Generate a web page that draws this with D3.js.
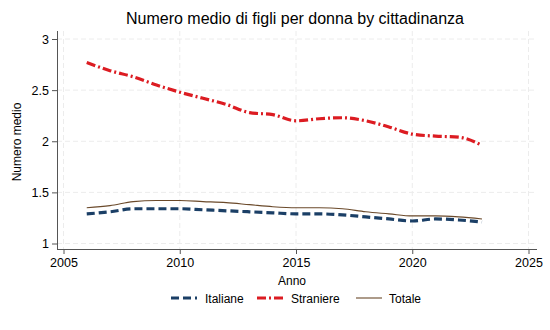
<!DOCTYPE html>
<html>
<head>
<meta charset="utf-8">
<script src="https://cdn.jsdelivr.net/npm/d3@7"></script>
<style>
  body { margin: 0; background: #fff; }
  svg { font-family: "Liberation Sans", Arial, sans-serif; }
</style>
</head>
<body>
<div id="chart"></div>
<script>
const anni = [2006, 2007, 2008, 2009, 2010, 2011, 2012, 2013, 2014, 2015, 2016, 2017, 2018, 2019, 2020, 2021, 2022, 2023]
const italiane = [1.29, 1.31, 1.34, 1.34, 1.34, 1.33, 1.32, 1.31, 1.30, 1.29, 1.29, 1.28, 1.26, 1.24, 1.22, 1.24, 1.23, 1.21]
const straniere = [2.77, 2.69, 2.63, 2.55, 2.48, 2.42, 2.36, 2.28, 2.26, 2.20, 2.22, 2.23, 2.20, 2.14, 2.07, 2.05, 2.04, 1.96]
const totale = [1.35, 1.37, 1.41, 1.42, 1.42, 1.41, 1.40, 1.38, 1.36, 1.35, 1.35, 1.34, 1.31, 1.29, 1.27, 1.27, 1.26, 1.24]
const xTicks = [2005, 2010, 2015, 2020, 2025]
const yTicks = [1, 1.5, 2, 2.5, 3]

const WIDTH = 550, HEIGHT = 330
const PLOT = { LEFT: 57, RIGHT: 537, TOP: 31, BOTTOM: 249 }

const series = [
  { name: 'Italiane', values: italiane, color: '#1b3f66', width: 3.2, dash: '8,4' },
  { name: 'Straniere', values: straniere, color: '#dc1c22', width: 3.2, dash: '9,3,2,3' },
  { name: 'Totale', values: totale, color: '#6b4a2b', width: 1.1, dash: null }
]

const svg = d3.select('#chart').append('svg')
  .attr('width', WIDTH)
  .attr('height', HEIGHT)

// scales
const x = d3.scaleLinear().domain([2005, 2025]).range([63.5, 528.5])
const y = d3.scaleLinear().domain([1, 3]).range([243.5, 39])

// grid
svg.append('g').selectAll('line').data(yTicks).join('line')
  .attr('x1', PLOT.LEFT).attr('x2', PLOT.RIGHT)
  .attr('y1', d => y(d)).attr('y2', d => y(d))
  .attr('stroke', '#ececec').attr('stroke-dasharray', '5,3')
svg.append('g').selectAll('line').data(xTicks).join('line')
  .attr('x1', d => x(d)).attr('x2', d => x(d))
  .attr('y1', PLOT.TOP).attr('y2', PLOT.BOTTOM)
  .attr('stroke', '#ececec').attr('stroke-dasharray', '5,3')

// axes
const xAxis = svg.append('g')
  .attr('transform', `translate(0, ${PLOT.BOTTOM})`)
  .call(d3.axisBottom(x).tickValues(xTicks).tickFormat(d3.format('d')).tickSizeOuter(0).tickSize(5).tickPadding(4))
xAxis.select('.domain').attr('d', `M${PLOT.LEFT},0.5H${PLOT.RIGHT}`)

const yAxis = svg.append('g')
  .attr('transform', `translate(${PLOT.LEFT}, 0)`)
  .call(d3.axisLeft(y).tickValues(yTicks).tickFormat(d => d).tickSizeOuter(0).tickSize(5).tickPadding(3))
yAxis.select('.domain').attr('d', `M0.5,${PLOT.TOP}V${PLOT.BOTTOM}`)

svg.selectAll('.tick text').attr('font-size', 12.5).attr('fill', '#000')
svg.selectAll('.domain, .tick line').attr('stroke', '#555')

// lines
const line = d3.line()
  .x((d, i) => x(anni[i]))
  .y(d => y(d))
  .curve(d3.curveMonotoneX)

series.forEach(s => {
  svg.append('path')
    .datum(s.values)
    .attr('d', line)
    .attr('fill', 'none')
    .attr('stroke', s.color)
    .attr('stroke-width', s.width)
    .attr('stroke-dasharray', s.dash)
})

// titles
svg.append('text')
  .attr('x', 295).attr('y', 24)
  .attr('text-anchor', 'middle')
  .attr('font-size', 16)
  .text('Numero medio di figli per donna by cittadinanza')

svg.append('text')
  .attr('x', 292).attr('y', 285)
  .attr('text-anchor', 'middle')
  .attr('font-size', 12)
  .text('Anno')

svg.append('text')
  .attr('transform', `translate(21, ${(PLOT.TOP + PLOT.BOTTOM) / 2 + 2}) rotate(-90)`)
  .attr('text-anchor', 'middle')
  .attr('font-size', 12)
  .text('Numero medio')

// legend
const legendX = [171, 257, 356]
const legend = svg.append('g').selectAll('g').data(series).join('g')
  .attr('transform', (d, i) => `translate(${legendX[i]}, 298)`)
legend.append('line')
  .attr('x1', 0).attr('x2', 26)
  .attr('stroke', d => d.color)
  .attr('stroke-width', d => d.width)
  .attr('stroke-dasharray', d => d.dash)
legend.append('text')
  .attr('x', (d, i) => i === 2 ? 33 : 34)
  .attr('y', 4.5)
  .attr('font-size', 12)
  .text(d => d.name)
</script>
</body>
</html>
